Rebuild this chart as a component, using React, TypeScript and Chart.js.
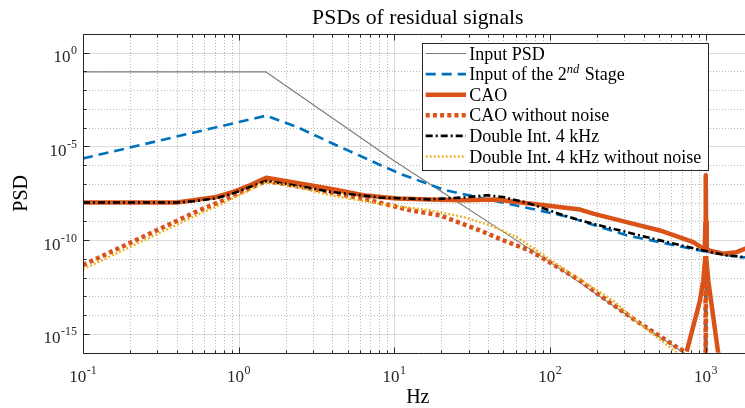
import React, { useEffect, useRef } from "react";
import { Chart, registerables } from "chart.js";

Chart.register(...registerables);

// ---------------- data ----------------
const inputPsdFreq = [0.1, 1.49, 9.84, 100, 378, 1000];
const inputPsdVal = [9.6e-2, 9.6e-2, 1.86e-6, 6.8e-12, 3.4e-15, 1.7e-17];

const stage2Freq = [0.1, 1.5, 2.34, 4.24, 8.45, 11.1, 21.1, 27, 67.3, 131, 310, 508, 918, 990, 1000, 1010, 1660, 2000];
const stage2Val = [2.3e-6, 4.4e-4, 1.15e-4, 1.17e-5, 8.9e-7, 3.3e-7, 4.7e-8, 3.0e-8, 5.9e-9, 1.74e-9, 1.82e-10, 7.9e-11, 2.8e-11, 2.5e-11, 1e-18, 2.4e-11, 1.26e-11, 1.2e-11];

const caoFreq = [0.1, 0.4, 0.51, 0.72, 0.92, 1.0, 1.18, 1.5, 2.47, 4.04, 6.31, 10.4, 16.9, 27.7, 45.4, 61, 95, 156, 189, 310, 508, 832, 942, 985, 995, 1000, 1005, 1015, 1064, 1294, 1578, 1786, 2000];
const caoVal = [1.02e-8, 1.02e-8, 1.35e-8, 2.04e-8, 3.8e-8, 4.8e-8, 8.5e-8, 2.14e-7, 1.05e-7, 5.2e-8, 2.5e-8, 1.66e-8, 1.48e-8, 1.35e-8, 1.48e-8, 1.1e-8, 7.2e-9, 4.3e-9, 2.6e-9, 9.3e-10, 3.3e-10, 7.9e-11, 4.0e-11, 3.5e-11, 1e-9, 2.95e-7, 1e-9, 3.2e-11, 2.8e-11, 1.9e-11, 2.3e-11, 3.5e-11, 4.5e-11];

const caoNnFreq = [0.1, 0.56, 0.755, 1.0, 1.5, 2.47, 4.04, 6.97, 12.6, 19.6, 23.9, 35.5, 50.1, 74.3, 122, 156, 209, 343, 561, 682, 754, 918, 964, 995, 1000, 1005, 1038, 1202, 1400, 2000];
const caoNnVal = [4.7e-12, 4.0e-9, 1.1e-8, 3.16e-8, 1.45e-7, 7.1e-8, 3.4e-8, 1.35e-8, 4.0e-9, 2.14e-9, 1.15e-9, 3.3e-10, 9.8e-11, 2.8e-11, 2.4e-12, 7.1e-13, 1.12e-13, 6.3e-15, 4.4e-16, 1.55e-16, 1.15e-16, 6.0e-14, 7.1e-13, 1.4e-11, 1e-18, 1.4e-11, 7.1e-13, 1.0e-16, 3e-18, 3e-19];

const diFreq = [0.1, 0.4, 0.51, 0.72, 0.92, 1.18, 1.5, 2.47, 3.86, 8.07, 16.9, 27.7, 39.2, 50, 74.3, 122, 156, 189, 310, 508, 918, 1361, 1786, 2000];
const diVal = [1.02e-8, 1.02e-8, 1.2e-8, 1.74e-8, 3.16e-8, 6.9e-8, 1.45e-7, 7.6e-8, 3.8e-8, 1.9e-8, 1.51e-8, 1.9e-8, 2.5e-8, 2.04e-8, 8.9e-9, 2.14e-9, 1.15e-9, 7.6e-10, 2.7e-10, 9.8e-11, 3.1e-11, 1.55e-11, 1.26e-11, 1.2e-11];

const diNnFreq = [0.1, 0.56, 0.755, 1.0, 1.5, 2.47, 3.86, 9.38, 16.9, 27.7, 41.1, 61, 95, 148, 255, 378, 650, 1000, 2000];
const diNnVal = [2.8e-12, 2.5e-9, 7.6e-9, 2.4e-8, 1.29e-7, 6.3e-8, 2.5e-8, 7.2e-9, 4.0e-9, 1.74e-9, 6.2e-10, 1.48e-10, 1.26e-11, 1.05e-12, 6.0e-14, 3.4e-15, 1.0e-16, 1e-17, 3e-19];

const xTickValues = [0.1, 1, 10, 100, 1000];
const xTickExps = ["-1", "0", "1", "2", "3"];
const yTickValues = [1, 1e-5, 1e-10, 1e-15];
const yTickExps = ["0", "-5", "-10", "-15"];

const titleText = "PSDs of residual signals";
const xLabel = "Hz";
const yLabel = "PSD";

const legendLabels = [
  "Input PSD",
  "Input of the 2|nd| Stage",
  "CAO",
  "CAO without noise",
  "Double Int. 4 kHz",
  "Double Int. 4 kHz without noise",
];

// ---------------- styling ----------------
const FONT = '"Liberation Serif", "Times New Roman", serif';
const AX = "#262626";
const CW = 770;
const CH = 408;

const pts = (f: number[], v: number[]) => f.map((x, i) => ({ x, y: v[i] }));

const seriesStyles = [
  { color: "#7a7a7a", width: 1.1, dash: [] as number[] },
  { color: "#0072BD", width: 2.6, dash: [10, 6] },
  { color: "#D95319", width: 4.5, dash: [] as number[] },
  { color: "#D95319", width: 4.5, dash: [4, 3.2] },
  { color: "#000000", width: 2.6, dash: [7, 3, 2, 3] },
  { color: "#EDB120", width: 2.2, dash: [2, 2] },
];

function drawPow(ctx: CanvasRenderingContext2D, exp: string, x: number, y: number, align: "center" | "right", base: number, sup: number, raise: number) {
  ctx.font = `${base}px ${FONT}`;
  const w1 = ctx.measureText("10").width;
  ctx.font = `${sup}px ${FONT}`;
  const w2 = ctx.measureText(exp).width;
  const total = w1 + w2 + 0.5;
  const x0 = align === "center" ? x - total / 2 : x - total;
  ctx.textAlign = "left";
  ctx.textBaseline = "alphabetic";
  ctx.font = `${base}px ${FONT}`;
  ctx.fillText("10", x0, y);
  ctx.font = `${sup}px ${FONT}`;
  ctx.fillText(exp, x0 + w1 + 0.5, y - raise);
}

const axesPlugin = {
  id: "matlabAxes",
  beforeDatasetsDraw(chart: any) {
    const { ctx, chartArea: a, scales } = chart;
    const xs = scales.x;
    const ys = scales.y;
    ctx.save();
    ctx.beginPath();
    ctx.rect(a.left, a.top, a.right - a.left, a.bottom - a.top);
    ctx.clip();
    ctx.lineWidth = 1;
    ctx.strokeStyle = "rgba(0,0,0,0.28)";
    ctx.setLineDash([1, 2]);
    for (const d of xTickValues) {
      for (let k = 2; k <= 9; k++) {
        const v = d * k;
        if (v > xs.max) continue;
        const px = Math.round(xs.getPixelForValue(v)) + 0.5;
        ctx.beginPath();
        ctx.moveTo(px, a.top);
        ctx.lineTo(px, a.bottom);
        ctx.stroke();
      }
    }
    for (let e = -16; e <= 1; e++) {
      if (e % 5 === 0) continue;
      const py = Math.round(ys.getPixelForValue(Math.pow(10, e))) + 0.5;
      ctx.beginPath();
      ctx.moveTo(a.left, py);
      ctx.lineTo(a.right, py);
      ctx.stroke();
    }
    ctx.setLineDash([]);
    ctx.strokeStyle = "rgba(0,0,0,0.14)";
    for (const v of xTickValues) {
      const px = Math.round(xs.getPixelForValue(v)) + 0.5;
      ctx.beginPath();
      ctx.moveTo(px, a.top);
      ctx.lineTo(px, a.bottom);
      ctx.stroke();
    }
    for (const v of yTickValues) {
      const py = Math.round(ys.getPixelForValue(v)) + 0.5;
      ctx.beginPath();
      ctx.moveTo(a.left, py);
      ctx.lineTo(a.right, py);
      ctx.stroke();
    }
    ctx.restore();
  },
  afterDatasetsDraw(chart: any) {
    const { ctx, chartArea: a, scales } = chart;
    const xs = scales.x;
    const ys = scales.y;
    ctx.save();
    ctx.strokeStyle = AX;
    ctx.lineWidth = 1;
    const L = Math.round(a.left) + 0.5;
    const R = Math.round(a.right) + 0.5;
    const T = Math.round(a.top) + 0.5;
    const B = Math.round(a.bottom) + 0.5;
    ctx.beginPath();
    ctx.moveTo(L, T);
    ctx.lineTo(R, T);
    ctx.lineTo(R, B);
    ctx.lineTo(L, B);
    ctx.closePath();
    ctx.stroke();
    const tick = (px: number, len: number) => {
      ctx.beginPath();
      ctx.moveTo(px, B);
      ctx.lineTo(px, B - len);
      ctx.moveTo(px, T);
      ctx.lineTo(px, T + len);
      ctx.stroke();
    };
    for (const d of xTickValues) {
      tick(Math.round(xs.getPixelForValue(d)) + 0.5, 6);
      for (let k = 2; k <= 9; k++) {
        const v = d * k;
        if (v > xs.max) continue;
        tick(Math.round(xs.getPixelForValue(v)) + 0.5, 3);
      }
    }
    for (let e = -16; e <= 1; e++) {
      const py = Math.round(ys.getPixelForValue(Math.pow(10, e))) + 0.5;
      const len = e % 5 === 0 ? 6 : 3;
      ctx.beginPath();
      ctx.moveTo(L, py);
      ctx.lineTo(L + len, py);
      ctx.moveTo(R, py);
      ctx.lineTo(R - len, py);
      ctx.stroke();
    }
    ctx.restore();
  },
  afterDraw(chart: any) {
    const { ctx, chartArea: a, scales } = chart;
    const xs = scales.x;
    const ys = scales.y;
    ctx.save();
    ctx.fillStyle = AX;
    xTickValues.forEach((v, i) => {
      drawPow(ctx, xTickExps[i], xs.getPixelForValue(v), a.bottom + 29, "center", 17, 12, 8);
    });
    yTickValues.forEach((v, i) => {
      drawPow(ctx, yTickExps[i], a.left - 6, ys.getPixelForValue(v) + 9.5, "right", 17, 12, 8);
    });
    ctx.fillStyle = "#000";
    ctx.font = `20px ${FONT}`;
    ctx.textAlign = "center";
    ctx.textBaseline = "alphabetic";
    const cx = (a.left + a.right) / 2;
    ctx.fillText(xLabel, cx, a.bottom + 50.5);
    ctx.save();
    ctx.translate(27, (a.top + a.bottom) / 2);
    ctx.rotate(-Math.PI / 2);
    ctx.fillText(yLabel, 0, 0);
    ctx.restore();
    ctx.font = `21.7px ${FONT}`;
    ctx.fillText(titleText, cx, a.top - 10.5);

    // legend
    const bx = a.left + 338.7;
    const by = a.top + 8.7;
    const bw = 286;
    const bh = 126.6;
    ctx.fillStyle = "#fff";
    ctx.fillRect(bx, by, bw, bh);
    ctx.strokeStyle = AX;
    ctx.lineWidth = 1;
    ctx.strokeRect(Math.round(bx) + 0.5, Math.round(by) + 0.5, Math.round(bw), Math.round(bh));
    legendLabels.forEach((lab, i) => {
      const st = seriesStyles[i];
      const yy = by + 10.8 + i * 20.6;
      ctx.save();
      ctx.strokeStyle = st.color;
      ctx.lineWidth = st.width;
      ctx.setLineDash(st.dash);
      ctx.lineCap = "butt";
      ctx.beginPath();
      ctx.moveTo(bx + 4, yy);
      ctx.lineTo(bx + 44.3, yy);
      ctx.stroke();
      ctx.restore();
      ctx.fillStyle = "#000";
      ctx.textAlign = "left";
      ctx.textBaseline = "alphabetic";
      const tx = bx + 47.6;
      const ty = yy + 6;
      const parts = lab.split("|");
      let cur = tx;
      parts.forEach((p, j) => {
        if (j % 2 === 1) {
          ctx.font = `italic 12.5px ${FONT}`;
          ctx.fillText(p, cur, ty - 7);
        } else {
          ctx.font = `18px ${FONT}`;
          ctx.fillText(p, cur, ty);
        }
        cur += ctx.measureText(p).width + (j % 2 === 1 ? 1 : 0);
      });
    });
    ctx.restore();
  },
};

// dense dotted markers on steep stretches render as a continuous stroke in the reference
const steepSolid = (dash: number[]) => (c: any) => {
  const dx = Math.abs(c.p1.x - c.p0.x);
  const dy = Math.abs(c.p1.y - c.p0.y);
  return dx > 1 && dy / dx > 3 ? [] : dash;
};

export default function App() {
  const ref = useRef<HTMLCanvasElement>(null);
  useEffect(() => {
    const series = [
      pts(inputPsdFreq, inputPsdVal),
      pts(stage2Freq, stage2Val),
      pts(caoFreq, caoVal),
      pts(caoNnFreq, caoNnVal),
      pts(diFreq, diVal),
      pts(diNnFreq, diNnVal),
    ];
    const chart = new Chart(ref.current as HTMLCanvasElement, {
      type: "line",
      data: {
        datasets: series.map((d, i) => ({
          label: legendLabels[i].replace(/\|/g, ""),
          data: d,
          borderColor: seriesStyles[i].color,
          backgroundColor: seriesStyles[i].color,
          borderWidth: seriesStyles[i].width,
          borderDash: seriesStyles[i].dash,
          borderCapStyle: "butt",
          borderJoinStyle: "round",
          pointRadius: 0,
          tension: 0,
          fill: false,
          order: 6 - i,
          segment: i === 3 ? { borderDash: steepSolid(seriesStyles[i].dash) } : undefined,
        })),
      } as any,
      options: {
        responsive: false,
        animation: false,
        devicePixelRatio: 1,
        layout: { padding: { left: 83, top: 34, right: CW - 752.6, bottom: CH - 352.7 } },
        plugins: { legend: { display: false }, title: { display: false }, tooltip: { enabled: false } },
        events: [],
        scales: {
          x: { type: "logarithmic", min: 0.1, max: 2000, display: false },
          y: { type: "logarithmic", min: 1e-16, max: 10, display: false },
        },
      } as any,
      plugins: [axesPlugin],
    });
    return () => chart.destroy();
  }, []);
  return (
    <div style={{ position: "fixed", left: 0, top: 0, width: 745, height: 408, overflow: "hidden", background: "#fff" }}>
      <canvas ref={ref} width={CW} height={CH} style={{ display: "block", width: CW, height: CH }} />
    </div>
  );
}
